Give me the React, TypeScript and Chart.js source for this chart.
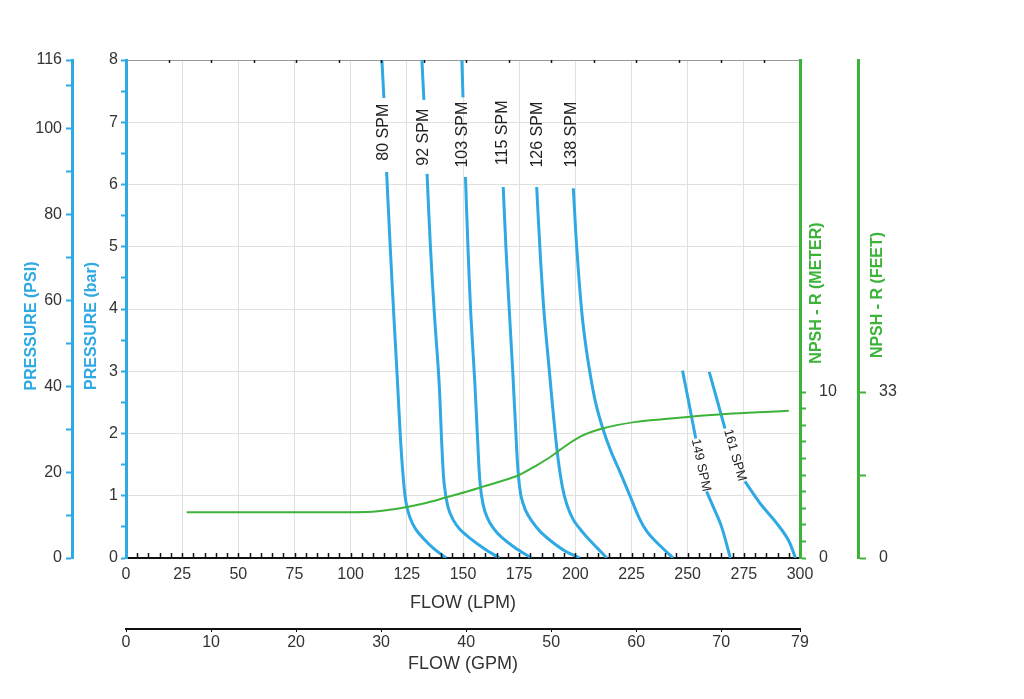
import React, { useEffect, useRef } from 'react';
import { Chart, registerables } from 'chart.js';

Chart.register(...registerables);

// ---------------- data ----------------
// Pump curves: flow (LPM) vs pressure (bar); null = gap where the label sits
const spm80X = [113.9, 114.8, 115.4, 116.0, 117.6, 119.2, 120.8, 122.2, 123.5, 124.6, 126.3, 129.0, 132.5, 137.0, 142.5];
const spm80Y = [8.0, 7.39, null, 6.2, 5.0, 3.9, 2.86, 1.9, 1.25, 0.9, 0.66, 0.46, 0.31, 0.15, 0];

const spm92X = [131.7, 132.6, 133.3, 134.0, 135.5, 137.3, 139.3, 140.6, 141.6, 143.3, 145.5, 148.6, 153.0, 159.5, 166.2];
const spm92Y = [8.0, 7.36, null, 6.17, 5.0, 3.9, 2.86, 1.8, 1.2, 0.82, 0.62, 0.46, 0.32, 0.15, 0];

const spm103X = [149.5, 150.0, 150.5, 151.1, 152.2, 153.5, 155.2, 156.5, 157.6, 159.0, 160.8, 163.5, 167.0, 173.0, 180.5];
const spm103Y = [8.0, 7.4, null, 6.12, 5.0, 3.9, 2.86, 1.9, 1.2, 0.85, 0.65, 0.48, 0.34, 0.17, 0];

const spm115X = [167.9, 169.1, 170.6, 172.1, 173.4, 174.5, 175.8, 177.8, 180.5, 184.5, 190.0, 196.0, 202.0];
const spm115Y = [5.96, 5.0, 3.98, 3.02, 2.1, 1.4, 1.0, 0.77, 0.6, 0.42, 0.25, 0.1, 0];

const spm126X = [182.8, 184.2, 186.0, 188.4, 190.5, 192.3, 194.2, 196.3, 199.0, 202.0, 205.5, 210.0, 214.0];
const spm126Y = [5.96, 5.0, 3.98, 3.02, 2.2, 1.6, 1.15, 0.85, 0.62, 0.47, 0.32, 0.15, 0];

const spm138X = [199.1, 200.6, 202.8, 204.5, 206.4, 209.0, 212.4, 216.0, 219.9, 224.3, 228.6, 232.0, 236.5, 243.5];
const spm138Y = [5.94, 5.0, 3.98, 3.45, 3.0, 2.5, 2.06, 1.7, 1.38, 1.0, 0.63, 0.42, 0.24, 0];

const spm149X = [247.7, 250.5, 253.6, 256.0, 258.4, 261.4, 265.1, 269.0];
const spm149Y = [3.01, 2.5, 1.92, null, 1.07, 0.82, 0.5, 0];

const spm161X = [259.6, 263.0, 266.6, 271.0, 275.5, 282.2, 289.6, 294.8, 298.0];
const spm161Y = [2.99, 2.55, 2.08, null, 1.23, 0.88, 0.56, 0.29, 0];

// NPSH-R curve: flow (LPM) vs metres
const npshX = [27, 50, 75, 100, 112, 122, 133, 143, 153, 159, 165, 175, 183, 189, 193, 202, 212, 227, 238, 250, 270, 295];
const npshY = [2.75, 2.75, 2.75, 2.76, 2.82, 3.0, 3.3, 3.67, 4.05, 4.3, 4.55, 5.0, 5.6, 6.1, 6.5, 7.3, 7.8, 8.2, 8.35, 8.5, 8.7, 8.87];

const curveLabels = ['80 SPM', '92 SPM', '103 SPM', '115 SPM', '126 SPM', '138 SPM', '149 SPM', '161 SPM'];
const curveLabelX = [114.6, 132.3, 149.7, 167.8, 183.4, 198.5, 255.9, 271.0];
const curveLabelY = [6.84, 6.76, 6.8, 6.83, 6.8, 6.8, 1.49, 1.65];

// axis ticks / labels
const barTicks = [0, 0.5, 1, 1.5, 2, 2.5, 3, 3.5, 4, 4.5, 5, 5.5, 6, 6.5, 7, 7.5, 8];
const psiTicks = [0, 10, 20, 30, 40, 50, 60, 70, 80, 90, 100, 110, 116];
const psiLabels = ['0', '', '20', '', '40', '', '60', '', '80', '', '100', '', '116'];
const meterTicks = [0, 1, 2, 3, 4, 5, 6, 7, 8, 9, 10];
const meterLabels = ['0', '', '', '', '', '', '', '', '', '', '10'];
const feetTicks = [0, 16.5, 33];
const feetLabels = ['0', '', '33'];
const gpmTicks = [0, 10, 20, 30, 40, 50, 60, 70, 79.26];
const gpmLabels = ['0', '10', '20', '30', '40', '50', '60', '70', '79'];

const curveXs = [spm80X, spm92X, spm103X, spm115X, spm126X, spm138X, spm149X, spm161X];
const curveYs = [spm80Y, spm92Y, spm103Y, spm115Y, spm126Y, spm138Y, spm149Y, spm161Y];

// ---------------- styles ----------------
const BLUE = '#2EA9E3';
const GREEN = '#3DB33A';
const TEXT = '#333333';
const FONT = '"Liberation Sans", Arial, Helvetica, sans-serif';

const overlayPlugin = {
  id: 'overlay',
  afterDraw(chart: any) {
    const { ctx, chartArea, scales } = chart;
    const xs = scales.x;
    const ys = scales.y;
    const gs = scales.gpm;
    ctx.save();

    // small inward ticks on the LPM axis
    ctx.strokeStyle = '#111';
    ctx.lineWidth = 1.5;
    for (let v = 5; v < 300; v += 5) {
      const px = Math.round(xs.getPixelForValue(v)) + 0.5;
      ctx.beginPath();
      ctx.moveTo(px, chartArea.bottom);
      ctx.lineTo(px, chartArea.bottom - 5);
      ctx.stroke();
    }
    // small ticks on the top border at GPM spacing
    for (let g = 5; g < 79; g += 5) {
      const px = Math.round(gs.getPixelForValue(g)) + 0.5;
      ctx.beginPath();
      ctx.moveTo(px, chartArea.top);
      ctx.lineTo(px, chartArea.top + 3);
      ctx.stroke();
    }

    // curve labels
    ctx.fillStyle = '#222';
    ctx.textAlign = 'center';
    ctx.textBaseline = 'middle';
    curveLabels.forEach((txt, i) => {
      const px = xs.getPixelForValue(curveLabelX[i]);
      const py = ys.getPixelForValue(curveLabelY[i]);
      ctx.save();
      ctx.translate(px, py);
      if (i < 6) {
        ctx.rotate(-Math.PI / 2);
        ctx.font = `16px ${FONT}`;
      } else {
        ctx.rotate(((i === 6 ? 78 : 74) * Math.PI) / 180);
        ctx.font = `13px ${FONT}`;
      }
      ctx.fillText(txt, 0, 0);
      ctx.restore();
    });

    // axis titles
    const vTitle = (txt: string, x: number, y: number, color: string) => {
      ctx.save();
      ctx.translate(x, y);
      ctx.rotate(-Math.PI / 2);
      ctx.font = `bold 16px ${FONT}`;
      ctx.fillStyle = color;
      ctx.textAlign = 'center';
      ctx.textBaseline = 'middle';
      ctx.fillText(txt, 0, 0);
      ctx.restore();
    };
    vTitle('PRESSURE (PSI)', scales.psi.left + 32, chartArea.top + 266, BLUE);
    vTitle('PRESSURE (bar)', scales.y.left + 20, chartArea.top + 266, BLUE);
    vTitle('NPSH - R (METER)', scales.m.left + 17, chartArea.top + 233, GREEN);
    vTitle('NPSH - R (FEET)', scales.ft.left + 20, chartArea.top + 235, GREEN);

    ctx.font = `18px ${FONT}`;
    ctx.fillStyle = TEXT;
    ctx.textAlign = 'center';
    ctx.textBaseline = 'middle';
    const cx = (chartArea.left + chartArea.right) / 2;
    ctx.fillText('FLOW (LPM)', cx, scales.x.top + 45);
    ctx.fillText('FLOW (GPM)', cx, scales.gpm.top + 35);

    ctx.restore();
  },
};

export default function App() {
  const canvasRef = useRef<HTMLCanvasElement | null>(null);

  useEffect(() => {
    if (!canvasRef.current) return;
    Chart.defaults.font.family = FONT;

    const blueSets = curveXs.map((xsArr, k) => ({
      label: curveLabels[k],
      data: xsArr.map((x, i) => ({ x, y: curveYs[k][i] })),
      borderColor: BLUE,
      borderWidth: 3,
      pointRadius: 0,
      tension: 0.35,
      spanGaps: false,
      fill: false,
      xAxisID: 'x',
      yAxisID: 'y',
    }));

    const npshSet = {
      label: 'NPSH-R',
      data: npshX.map((x, i) => ({ x, y: npshY[i] })),
      borderColor: GREEN,
      borderWidth: 2,
      pointRadius: 0,
      cubicInterpolationMode: 'monotone' as const,
      fill: false,
      xAxisID: 'x',
      yAxisID: 'm',
    };

    const tickFont = { size: 16 };

    const chart = new Chart(canvasRef.current, {
      type: 'line',
      data: { datasets: [npshSet, ...blueSets] as any },
      options: {
        animation: false,
        responsive: true,
        maintainAspectRatio: false,
        layout: { padding: { top: 60, left: 0, right: 0, bottom: 0 } },
        plugins: { legend: { display: false }, tooltip: { enabled: false } },
        scales: {
          x: {
            type: 'linear',
            position: 'bottom',
            weight: 0,
            min: 0,
            max: 300,
            afterFit: (s: any) => { s.height = 71; },
            ticks: { stepSize: 25, color: TEXT, font: tickFont, padding: 1, maxRotation: 0, autoSkip: false },
            grid: { color: '#e0e0e0', lineWidth: 1, tickLength: 6, tickColor: 'rgba(0,0,0,0)' },
            border: { color: '#111', width: 2 },
          },
          gpm: {
            type: 'linear',
            position: 'bottom',
            weight: 1,
            min: 0,
            max: 79.26,
            afterFit: (s: any) => { s.height = 70; },
            afterBuildTicks: (s: any) => { s.ticks = gpmTicks.map((v) => ({ value: v })); },
            ticks: {
              color: TEXT, font: tickFont, padding: 1, maxRotation: 0, autoSkip: false,
              callback: (_v: any, i: number) => gpmLabels[i],
            },
            grid: { drawOnChartArea: false, tickLength: 3, tickColor: '#111' },
            border: { color: '#111', width: 2 },
          },
          y: {
            type: 'linear',
            position: 'left',
            weight: 0,
            min: 0,
            max: 8,
            afterFit: (s: any) => { s.width = 54; },
            afterBuildTicks: (s: any) => { s.ticks = barTicks.map((v) => ({ value: v })); },
            ticks: {
              color: TEXT, font: tickFont, padding: 3, autoSkip: false,
              callback: (v: any) => (Number.isInteger(v) ? String(v) : ''),
            },
            grid: {
              color: (c: any) => (c.tick && Number.isInteger(c.tick.value) ? (c.tick.value === 8 ? '#999' : '#e0e0e0') : 'rgba(0,0,0,0)'),
              tickLength: 5,
              tickColor: BLUE,
              tickWidth: 2,
            },
            border: { color: BLUE, width: 3 },
          },
          psi: {
            type: 'linear',
            position: 'left',
            weight: 1,
            min: 0,
            max: 116,
            afterFit: (s: any) => { s.width = 72; },
            afterBuildTicks: (s: any) => { s.ticks = psiTicks.map((v) => ({ value: v })); },
            ticks: {
              color: TEXT, font: tickFont, padding: 4, autoSkip: false,
              callback: (_v: any, i: number) => psiLabels[i],
            },
            grid: { drawOnChartArea: false, tickLength: 6, tickColor: BLUE, tickWidth: 2 },
            border: { color: BLUE, width: 3 },
          },
          m: {
            type: 'linear',
            position: 'right',
            weight: 0,
            min: 0,
            max: 30,
            afterFit: (s: any) => { s.width = 58; },
            afterBuildTicks: (s: any) => { s.ticks = meterTicks.map((v) => ({ value: v })); },
            ticks: {
              color: TEXT, font: tickFont, padding: 13, autoSkip: false,
              callback: (_v: any, i: number) => meterLabels[i],
            },
            grid: { drawOnChartArea: false, tickLength: 6, tickColor: GREEN, tickWidth: 2 },
            border: { color: GREEN, width: 3 },
          },
          ft: {
            type: 'linear',
            position: 'right',
            weight: 1,
            min: 0,
            max: 99,
            afterFit: (s: any) => { s.width = 166; },
            afterBuildTicks: (s: any) => { s.ticks = feetTicks.map((v) => ({ value: v })); },
            ticks: {
              color: TEXT, font: tickFont, padding: 13, autoSkip: false,
              callback: (_v: any, i: number) => feetLabels[i],
            },
            grid: { drawOnChartArea: false, tickLength: 8, tickColor: GREEN, tickWidth: 2 },
            border: { color: GREEN, width: 3 },
          },
        } as any,
      },
      plugins: [overlayPlugin],
    });

    return () => chart.destroy();
  }, []);

  return (
    <div style={{ position: 'fixed', left: 0, top: 0, width: 1024, height: 699, background: '#fff' }}>
      <canvas ref={canvasRef} />
    </div>
  );
}
